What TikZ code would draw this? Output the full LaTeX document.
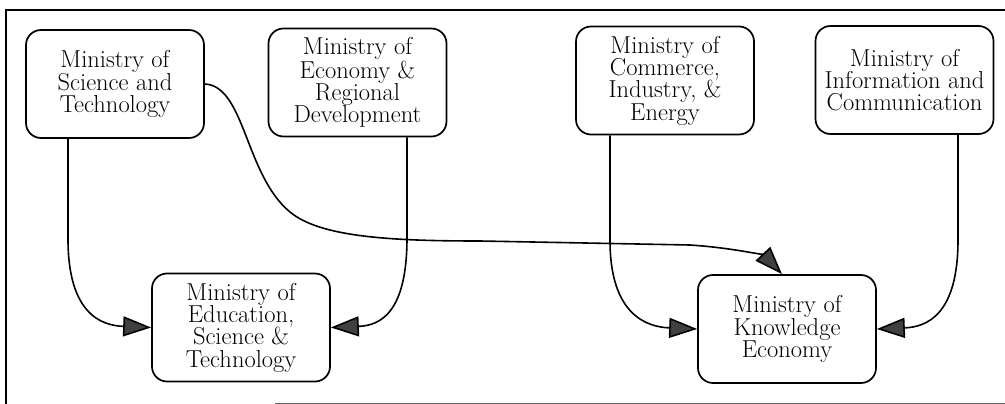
\documentclass[tikz,border=0pt]{standalone}
\usepackage{fontspec}
\usetikzlibrary{arrows.meta}
\begin{document}
\begin{tikzpicture}[x=1pt,y=-1pt,
  ministry/.style={draw=black, line width=1.7pt, rounded corners=15pt,
    minimum width=178pt, minimum height=108pt, align=center, inner sep=1pt,
    font=\fontsize{24.5}{22.3}\selectfont},
  link/.style={draw=black, line width=1.6pt,
    -{Triangle[length=28pt,width=20pt,fill=black!75]}},
  frameline/.style={draw=black, line width=1.2pt}]
\useasboundingbox (0,0) rectangle (1005,404);
% frame
\draw[frameline] (6,404) -- (6,10) -- (1005,10);
\draw[draw=black!60, line width=1pt] (275,403) -- (1005,403);
% nodes
\node[ministry] (sci) at (115,84) {Ministry of\\Science and\\Technology};
\node[ministry] (eco) at (357.5,82.5) {Ministry of\\Economy \&\\Regional\\Development};
\node[ministry] (com) at (665,80.5) {Ministry of\\Commerce,\\Industry, \&\\Energy};
\node[ministry] (inf) at (904.5,80) {Ministry of\\Information and\\Communication};
\node[ministry] (edu) at (241,327.5) {Ministry of\\Education,\\Science \&\\Technology};
\node[ministry] (kno) at (787,329) {Ministry of\\Knowledge\\Economy};
% connectors
\draw[link] ([xshift=-47pt]sci.south) -- ++(0,100)
  .. controls +(0,75) and +(-50,-2) .. (edu.west);
\draw[link] ([xshift=49.5pt]eco.south) -- ++(0,100)
  .. controls +(0,75) and +(50,-2) .. (edu.east);
\draw[link] ([xshift=-55pt]com.south) -- ++(0,105)
  .. controls +(0,75) and +(-50,-2) .. (kno.west);
\draw[link] ([xshift=53.5pt]inf.south) -- ++(0,105)
  .. controls +(0,75) and +(50,-2) .. (kno.east);
\draw[link] (sci.east) .. controls (245,86) and (245,175) .. (290,212)
  .. controls (320,237) and (390,241) .. (480,241)
  -- (690,245) .. controls (735,248) and (765,256) .. ([xshift=-5pt]kno.north);
\end{tikzpicture}
\end{document}
